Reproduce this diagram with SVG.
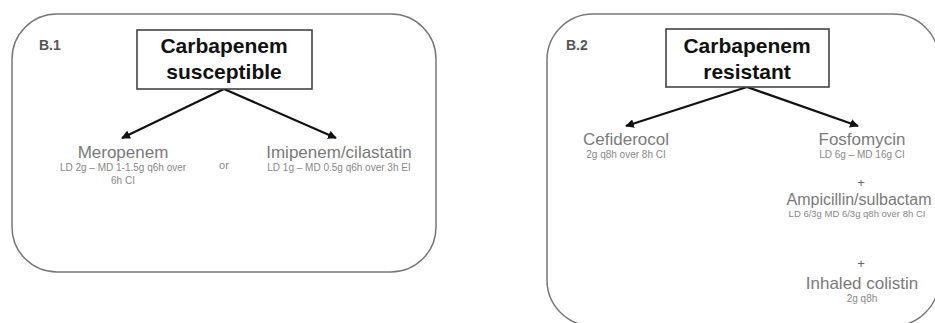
<svg xmlns="http://www.w3.org/2000/svg" width="935" height="323" viewBox="0 0 935 323">
<style>
.panel{fill:#fff;stroke:#777;stroke-width:1.5}
.box{fill:#fff;stroke:#444;stroke-width:1.6}
.title{font-family:"Liberation Sans",Arial,sans-serif;font-weight:bold;font-size:21px;fill:#111;text-anchor:middle}
.lab{font-family:"Liberation Sans",Arial,sans-serif;font-weight:bold;font-size:14px;fill:#555}
.drug{font-family:"Liberation Sans",Arial,sans-serif;font-size:17px;fill:#7a7a7a;text-anchor:middle}
.dose{font-family:"Liberation Sans",Arial,sans-serif;font-size:10px;fill:#888;text-anchor:middle}
.plus{font-family:"Liberation Sans",Arial,sans-serif;font-size:13px;fill:#666;text-anchor:middle}
.conn{stroke:#111;stroke-width:2.2;fill:none;marker-end:url(#ah)}
</style>
<defs>
<marker id="ah" viewBox="0 0 10 10" refX="9" refY="5" markerWidth="4" markerHeight="4" orient="auto" markerUnits="strokeWidth">
<path d="M0,0 L10,5 L0,10 z" fill="#111"/>
</marker>
</defs>
<rect width="935" height="323" fill="#fff"/>
<g id="panel-b1">
<rect class="panel" x="12" y="14" width="424" height="258" rx="45" ry="45"/>
<text class="lab" x="39" y="50">B.1</text>
</g>
<g id="panel-b2">
<rect class="panel" x="547" y="14" width="392" height="312" rx="46" ry="46"/>
<text class="lab" x="566" y="50">B.2</text>
</g>
<g id="connectors">
<line class="conn" x1="224" y1="89" x2="122" y2="138"/>
<line class="conn" x1="224" y1="89" x2="336" y2="138"/>
<line class="conn" x1="747" y1="87" x2="626" y2="126"/>
<line class="conn" x1="747" y1="87" x2="858" y2="126"/>
</g>
<g id="node-susceptible">
<rect class="box" x="137" y="30" width="175" height="59"/>
<text class="title" x="224" y="53">Carbapenem</text>
<text class="title" x="224" y="79">susceptible</text>
</g>
<g id="node-meropenem">
<text class="drug" x="123" y="158">Meropenem</text>
<text class="dose" x="123" y="171">LD 2g – MD 1-1.5g q6h over</text>
<text class="dose" x="123" y="184">6h CI</text>
</g>
<g id="node-or">
<text class="dose" x="224" y="169" style="font-size:11px">or</text>
</g>
<g id="node-imipenem">
<text class="drug" x="339" y="158">Imipenem/cilastatin</text>
<text class="dose" x="339" y="171">LD 1g – MD 0.5g q6h over 3h EI</text>
</g>
<g id="node-resistant">
<rect class="box" x="666" y="29" width="163" height="58"/>
<text class="title" x="747" y="53">Carbapenem</text>
<text class="title" x="747" y="79">resistant</text>
</g>
<g id="node-cefiderocol">
<text class="drug" x="626" y="145">Cefiderocol</text>
<text class="dose" x="626" y="158">2g q8h over 8h CI</text>
</g>
<g id="node-fosfomycin">
<text class="drug" x="862" y="145">Fosfomycin</text>
<text class="dose" x="862" y="158">LD 6g – MD 16g CI</text>
<text class="plus" x="861" y="187">+</text>
</g>
<g id="node-ampicillin">
<text class="drug" x="859" y="205" style="font-size:16px">Ampicillin/sulbactam</text>
<text class="dose" x="857" y="217" style="font-size:9.5px">LD 6/3g MD 6/3g q8h over 8h CI</text>
<text class="plus" x="861" y="268">+</text>
</g>
<g id="node-colistin">
<text class="drug" x="862" y="289">Inhaled colistin</text>
<text class="dose" x="862" y="302">2g q8h</text>
</g>
</svg>
